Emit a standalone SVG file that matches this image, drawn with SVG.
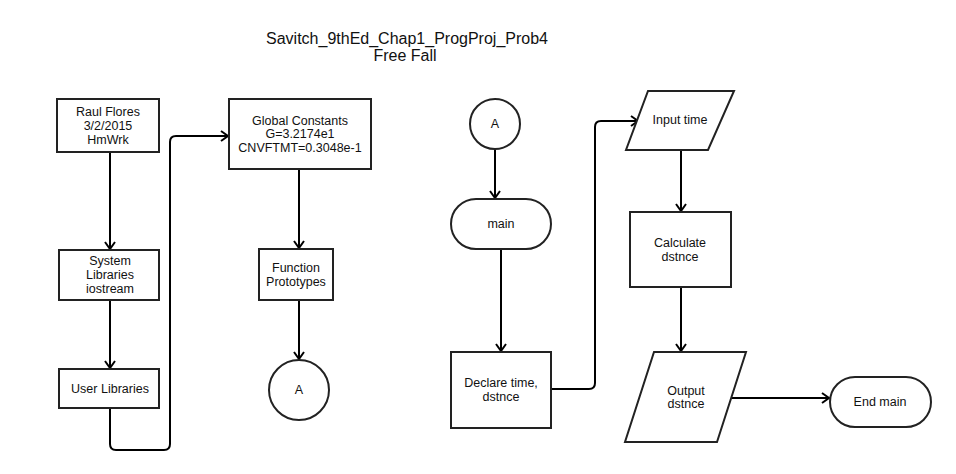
<svg xmlns="http://www.w3.org/2000/svg" width="956" height="474" viewBox="0 0 956 474">
<style>
text{font-family:"Liberation Sans",Arial,sans-serif;font-size:12.5px;fill:#111;text-anchor:middle}
.title{font-size:16px}
.n{fill:#fff;stroke:#222;stroke-width:2}
.c{fill:none;stroke:#000;stroke-width:2;marker-end:url(#ah)}
</style>
<defs>
<marker id="ah" markerUnits="userSpaceOnUse" markerWidth="14" markerHeight="14" refX="10" refY="7" orient="auto">
<path d="M3,2 L10,7 L3,12" fill="none" stroke="#000" stroke-width="2"/>
</marker>
</defs>
<rect width="956" height="474" fill="#fff"/>
<g id="title">
<text class="title" x="407" y="44">Savitch_9thEd_Chap1_ProgProj_Prob4</text>
<text class="title" x="405" y="61">Free Fall</text>
</g>
<g id="connectors">
<path class="c" d="M110,152 V249"/>
<path class="c" d="M110,300 V368"/>
<path class="c" d="M110,408 V444 Q110,450 116,450 H164 Q170,450 170,444 V142 Q170,136 176,136 H228"/>
<path class="c" d="M299,169 V248"/>
<path class="c" d="M299,300 V359"/>
<path class="c" d="M495,149 V198"/>
<path class="c" d="M501,249 V351"/>
<path class="c" d="M551,389 H589 Q595,389 595,383 V127 Q595,121 601,121 H638"/>
<path class="c" d="M681,150 V211"/>
<path class="c" d="M681,287 V351"/>
<path class="c" d="M732,398 H829"/>
</g>
<g id="n1"><rect class="n" x="57" y="99" width="102" height="53"/>
<text x="108" y="116">Raul Flores</text><text x="108" y="130">3/2/2015</text><text x="108" y="144">HmWrk</text></g>
<g id="n2"><rect class="n" x="59" y="250" width="100" height="50"/>
<text x="110" y="265">System</text><text x="110" y="279">Libraries</text><text x="110" y="293">iostream</text></g>
<g id="n3"><rect class="n" x="59" y="369" width="100" height="39"/>
<text x="110" y="393">User Libraries</text></g>
<g id="n4"><rect class="n" x="229" y="99" width="142" height="70"/>
<text x="300" y="125">Global Constants</text><text x="300" y="138">G=3.2174e1</text><text x="300" y="152">CNVFTMT=0.3048e-1</text></g>
<g id="n5"><rect class="n" x="259" y="249" width="74" height="51"/>
<text x="296" y="272">Function</text><text x="296" y="286">Prototypes</text></g>
<g id="n6"><circle class="n" cx="299" cy="390" r="30"/>
<text x="299" y="394">A</text></g>
<g id="n7"><circle class="n" cx="495" cy="124" r="25"/>
<text x="495" y="128">A</text></g>
<g id="n8"><rect class="n" x="451" y="199" width="100" height="50" rx="25"/>
<text x="501" y="228">main</text></g>
<g id="n9"><rect class="n" x="451" y="352" width="100" height="76"/>
<text x="501" y="387">Declare time,</text><text x="501" y="401">dstnce</text></g>
<g id="n10"><polygon class="n" points="648,91 734,91 708,150 626,150"/>
<text x="680" y="124">Input time</text></g>
<g id="n11"><rect class="n" x="630" y="212" width="101" height="75"/>
<text x="680" y="247">Calculate</text><text x="680" y="261">dstnce</text></g>
<g id="n12"><polygon class="n" points="654,352 746,352 717,442 625,442"/>
<text x="686" y="395">Output</text><text x="686" y="408">dstnce</text></g>
<g id="n13"><rect class="n" x="830" y="377" width="101" height="50" rx="25"/>
<text x="880" y="406">End main</text></g>
</svg>
